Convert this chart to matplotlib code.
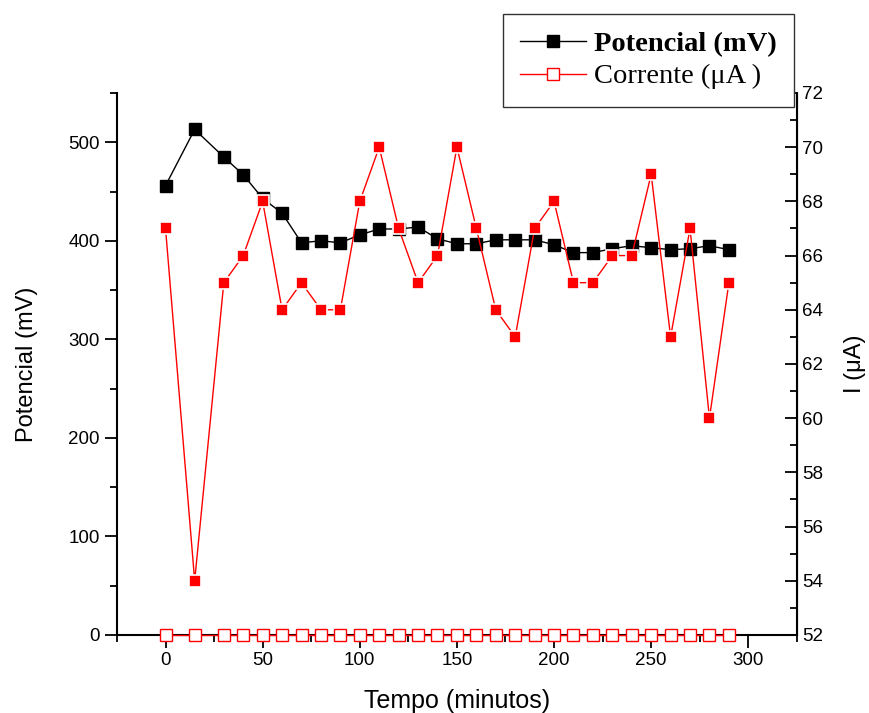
import matplotlib.pyplot as plt
from matplotlib.ticker import MultipleLocator

# Tempo (minutos)
tempo = [0, 15, 30, 40, 50, 60, 70, 80, 90, 100, 110, 120, 130, 140, 150,
         160, 170, 180, 190, 200, 210, 220, 230, 240, 250, 260, 270, 280, 290]

# Potencial (mV), left axis
potencial = [456, 513, 485, 467, 443, 428, 398, 400, 398, 406, 412, 412, 414, 402, 397,
             397, 401, 401, 401, 396, 388, 388, 392, 395, 393, 391, 392, 395, 391]

# Corrente (uA), right axis
corrente = [67, 54, 65, 66, 68, 64, 65, 64, 64, 68, 70, 67, 65, 66, 70,
            67, 64, 63, 67, 68, 65, 65, 66, 66, 69, 63, 67, 60, 65]

# Corrente series as it sits on the left axis (all at zero)
corrente_esq = [0, 0, 0, 0, 0, 0, 0, 0, 0, 0, 0, 0, 0, 0, 0,
                0, 0, 0, 0, 0, 0, 0, 0, 0, 0, 0, 0, 0, 0]

plt.rcParams['font.family'] = ['Liberation Sans', 'DejaVu Sans']

fig = plt.figure(figsize=(8.69, 7.13), dpi=100)
ax = fig.add_axes([0.1346, 0.1094, 0.7824, 0.7602])

l1, = ax.plot(tempo, potencial, color='black', lw=1, marker='s', ms=8.5,
              mfc='black', mec='black', label='Potencial (mV)', zorder=3)
l2, = ax.plot(tempo, corrente_esq, color='red', lw=1, marker='s', ms=8,
              mfc='white', mec='red', mew=1, label='Corrente (\u03bcA )',
              clip_on=False, zorder=3)

ax.set_xlim(-25, 325)
ax.set_ylim(0, 550)
ax.xaxis.set_major_locator(MultipleLocator(50))
ax.xaxis.set_minor_locator(MultipleLocator(25))
ax.yaxis.set_major_locator(MultipleLocator(100))
ax.yaxis.set_minor_locator(MultipleLocator(50))
ax.tick_params(which='major', direction='out', length=9, width=1.3, labelsize=13.5)
ax.tick_params(which='minor', direction='out', length=5, width=1.3)
ax.spines['top'].set_visible(False)
for s in ['left', 'bottom']:
    ax.spines[s].set_linewidth(1.5)
ax.set_xlabel('Tempo (minutos)', fontsize=18, labelpad=14)
ax.set_ylabel('Potencial (mV)', fontsize=17, labelpad=22)

ax2 = ax.twinx()
ax2.plot(tempo, corrente, color='red', lw=1, marker='s', ms=8,
         mfc='red', mec='white', mew=1.2, zorder=4)
ax2.set_ylim(52, 72)
ax2.yaxis.set_major_locator(MultipleLocator(2))
ax2.yaxis.set_minor_locator(MultipleLocator(1))
ax2.tick_params(which='major', direction='in', length=9, width=1.3, labelsize=13.5)
ax2.tick_params(which='minor', direction='in', length=5, width=1.3)
ax2.spines['top'].set_visible(False)
ax2.spines['right'].set_linewidth(1.5)
ax2.spines['left'].set_visible(False)
ax2.spines['bottom'].set_visible(False)
ax2.set_ylabel('I (\u03bcA)', fontsize=17, labelpad=15)

leg = fig.legend(handles=[l1, l2], loc='upper left',
                 bbox_to_anchor=(0.579, 0.980), frameon=True, fancybox=False,
                 edgecolor='#333333', framealpha=1, handlelength=2.3,
                 borderpad=0.6, labelspacing=0.22, handletextpad=0.3,
                 borderaxespad=0,
                 prop={'family': ['Liberation Serif', 'DejaVu Serif'], 'size': 20.5})
leg.get_texts()[0].set_fontweight('bold')
leg.get_frame().set_linewidth(1)

fig.savefig('out.png', dpi=100)
